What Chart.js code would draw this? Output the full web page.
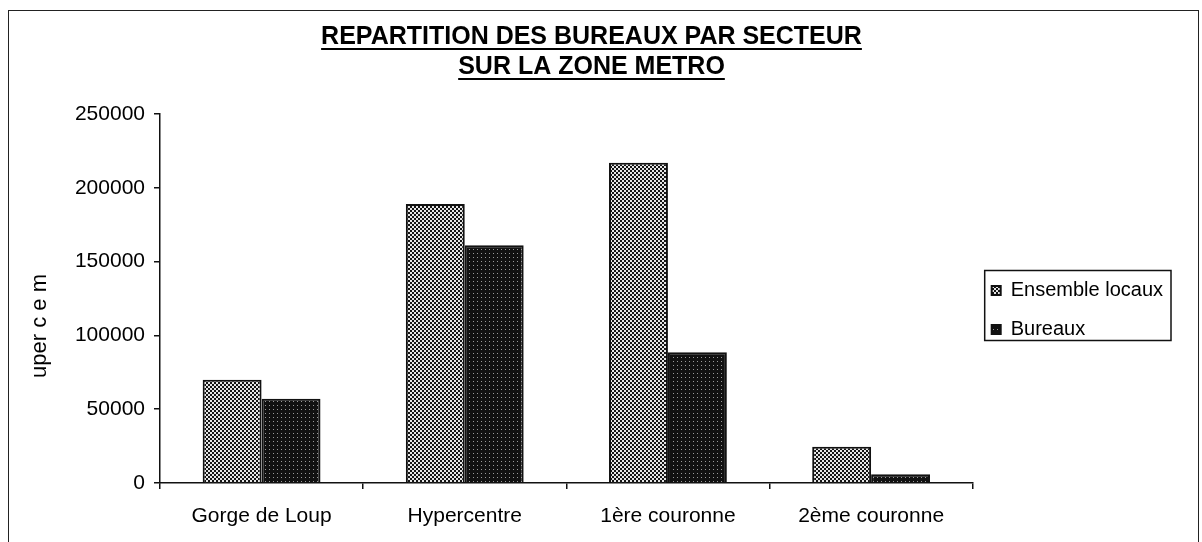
<!DOCTYPE html>
<html>
<head>
<meta charset="utf-8">
<script src="https://cdn.jsdelivr.net/npm/chart.js@4.4.1/dist/chart.umd.min.js"></script>
<style>
  html, body { margin: 0; padding: 0; background: #fff; overflow: hidden; }
  #wrap { position: relative; width: 1202px; height: 542px; }
  #frame { position: absolute; left: 8px; top: 10px; width: 1191px; height: 560px; border: 1px solid #222; box-sizing: border-box; }
  canvas { position: absolute; left: 0; top: 0; }
</style>
</head>
<body>
<div id="wrap">
  <div id="frame"></div>
  <canvas id="chart" width="1202" height="542"></canvas>
</div>
<script>
const categories = ['Gorge de Loup', 'Hypercentre', '1ère couronne', '2ème couronne'];
const ensembleLocaux = [70000, 189000, 217000, 24500];
const bureaux = [57000, 161000, 88500, 6000];
const seriesNames = ['Ensemble locaux', 'Bureaux'];
const titleLines = ['REPARTITION DES BUREAUX PAR SECTEUR', 'SUR LA ZONE METRO'];
const yTitle = 'uper c e m';

const FONT = 'Arial, "Liberation Sans", sans-serif';

// printed dither patterns
function makePattern(size, bg, fg, dots) {
    const c = document.createElement('canvas');
    c.width = size;
    c.height = size;
    const g = c.getContext('2d');
    g.fillStyle = bg;
    g.fillRect(0, 0, size, size);
    g.fillStyle = fg;
    dots.forEach(d => g.fillRect(d[0], d[1], d[2], d[3]));
    return g.createPattern(c, 'repeat');
}

const ctx = document.getElementById('chart').getContext('2d');
const checkered = makePattern(4, '#e6e6e6', '#141414', [[0, 0, 2, 2], [2, 2, 2, 2]]);
const darkDots = makePattern(4, '#111111', '#9a9a9a', [[1, 1, 1, 1]]);

const underlineTitle = {
    id: 'underlineTitle',
    afterDraw(chart) {
        const tb = chart.titleBlock;
        const opts = chart.options.plugins.title;
        const font = Chart.helpers.toFont(opts.font);
        const pad = Chart.helpers.toPadding(opts.padding);
        const c = chart.ctx;
        c.save();
        c.font = font.string;
        c.strokeStyle = '#000';
        c.lineWidth = 2;
        const cx = (tb.left + tb.right) / 2;
        titleLines.forEach((line, i) => {
            const w = c.measureText(line).width;
            const y = tb.top + pad.top + font.lineHeight / 2 + i * font.lineHeight + 12;
            c.beginPath();
            c.moveTo(cx - w / 2, y);
            c.lineTo(cx + w / 2, y);
            c.stroke();
        });
        c.restore();
    }
};

const legendBorder = {
    id: 'legendBorder',
    afterDraw(chart) {
        const boxes = chart.legend.legendHitBoxes;
        if (!boxes || !boxes.length) return;
        const left = Math.min(...boxes.map(b => b.left)) - 7;
        const right = Math.max(...boxes.map(b => b.left + b.width)) + 8;
        const top = Math.min(...boxes.map(b => b.top)) - 10;
        const bottom = Math.max(...boxes.map(b => b.top + b.height)) + 1;
        const c = chart.ctx;
        c.save();
        c.strokeStyle = '#111';
        c.lineWidth = 1.5;
        c.strokeRect(left, top, right - left, bottom - top);
        c.restore();
    }
};

new Chart(ctx, {
    type: 'bar',
    data: {
        labels: categories,
        datasets: [{
            label: seriesNames[0],
            data: ensembleLocaux,
            backgroundColor: checkered,
            borderColor: '#111',
            borderWidth: 2,
            barPercentage: 1,
            categoryPercentage: 0.58
        }, {
            label: seriesNames[1],
            data: bureaux,
            backgroundColor: darkDots,
            borderColor: '#111',
            borderWidth: 2,
            barPercentage: 1,
            categoryPercentage: 0.58
        }]
    },
    options: {
        responsive: false,
        animation: false,
        layout: { padding: { left: 10, right: 29, top: 0, bottom: 0 } },
        plugins: {
            title: {
                display: true,
                text: titleLines,
                color: '#000',
                font: { family: FONT, size: 25, weight: 'bold', lineHeight: 1.2 },
                padding: { top: 22, bottom: 32 }
            },
            legend: {
                position: 'right',
                title: {
                    // empty spacer title, pushes the items down
                    display: true,
                    text: ' ',
                    font: { family: FONT, size: 10 },
                    padding: { top: 0, bottom: 66 }
                },
                labels: {
                    color: '#000',
                    font: { family: FONT, size: 20 },
                    boxWidth: 9,
                    boxHeight: 9,
                    padding: 19
                }
            },
            tooltip: { enabled: false }
        },
        scales: {
            x: {
                grid: { drawOnChartArea: false, tickLength: 6, color: '#111', lineWidth: 1.5 },
                border: { color: '#111', width: 1.5 },
                ticks: { color: '#000', font: { family: FONT, size: 21 }, padding: 15, maxRotation: 0 },
                afterFit(scale) { scale.height = 59; }
            },
            y: {
                min: 0,
                max: 250000,
                grid: { drawOnChartArea: false, tickLength: 6, color: '#111', lineWidth: 1.5 },
                border: { color: '#111', width: 1.5 },
                ticks: {
                    stepSize: 50000,
                    color: '#000',
                    font: { family: FONT, size: 21 },
                    padding: 9,
                    callback: value => String(value)
                },
                title: {
                    display: true,
                    text: yTitle + '         ',
                    color: '#000',
                    font: { family: FONT, size: 22 },
                    padding: { top: 17, bottom: 0 }
                },
                afterFit(scale) { scale.width = 150; }
            }
        }
    },
    plugins: [underlineTitle, legendBorder]
});
</script>
</body>
</html>
